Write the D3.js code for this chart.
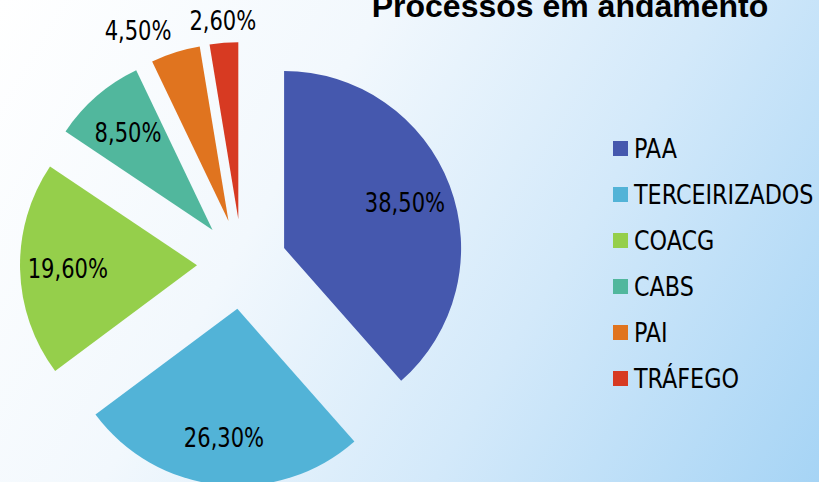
<!DOCTYPE html>
<html><head><meta charset="utf-8">
<script src="https://cdn.jsdelivr.net/npm/d3@7"></script>
<style>html,body{margin:0;padding:0;overflow:hidden;background:#fff;}</style>
</head><body>
<svg id="c" width="819" height="482"></svg>
<script>
const categories = ["PAA", "TERCEIRIZADOS", "COACG", "CABS", "PAI", "TRÁFEGO"];
const values = [38.5, 26.3, 19.6, 8.5, 4.5, 2.6];
const valueLabels = ["38,50%", "26,30%", "19,60%", "8,50%", "4,50%", "2,60%"];
const colors = ["#4558ae", "#52b3d7", "#95cf4b", "#51b79d", "#e0741f", "#d73a22"];
const title = "Processos em andamento";

const W = 819, H = 482;
const svg = d3.select("#c");
const defs = svg.append("defs");
const g = defs.append("linearGradient").attr("id", "bg")
  .attr("gradientUnits", "userSpaceOnUse")
  .attr("x1", 0).attr("y1", 0).attr("x2", W).attr("y2", H);
[[0, "#ffffff"], [0.35, "#f2f8fd"], [0.65, "#d3e9fa"], [1, "#a6d4f5"]]
  .forEach(([o, c]) => g.append("stop").attr("offset", o).attr("stop-color", c));
svg.append("rect").attr("width", W).attr("height", H).attr("fill", "url(#bg)");

const cx = 242, cy = 264, R = 177, explode = 45;
const pie = d3.pie().sort(null).value(d => d);
const arcs = pie(values);
const arc = d3.arc().innerRadius(0).outerRadius(R);
const labelArc = d3.arc().innerRadius(R * 0.73).outerRadius(R * 0.73);
const outArc = d3.arc().innerRadius(R + 13).outerRadius(R + 13);

const chart = svg.append("g").attr("transform", `translate(${cx},${cy})`);
const sl = chart.selectAll("g.slice").data(arcs).join("g")
  .attr("class", "slice")
  .attr("transform", d => {
    const a = (d.startAngle + d.endAngle) / 2;
    return `translate(${Math.sin(a) * explode},${-Math.cos(a) * explode})`;
  });
sl.append("path").attr("d", arc).attr("fill", (d, i) => colors[i]);

const fontLab = "'DejaVu Sans Condensed','DejaVu Sans',sans-serif";
const sx = 0.9;
sl.append("text")
  .attr("transform", d => {
    const small = (d.endAngle - d.startAngle) < 0.35;
    const p = small ? outArc.centroid(d) : labelArc.centroid(d);
    return `translate(${p[0]},${p[1]}) scale(${sx},1)`;
  })
  .attr("dy", d => (d.endAngle - d.startAngle) < 0.35 ? 0 : "0.36em")
  .attr("text-anchor", d => {
    if ((d.endAngle - d.startAngle) >= 0.35) return "middle";
    const s = Math.sin((d.startAngle + d.endAngle) / 2);
    return s < -0.2 ? "end" : (s > 0.2 ? "start" : "middle");
  })
  .attr("font-family", fontLab).attr("font-size", 26).attr("fill", "#000")
  .text((d, i) => valueLabels[i]);

svg.append("text").attr("x", 570).attr("y", 17).attr("text-anchor", "middle")
  .attr("font-family", "'Liberation Sans',Arial,sans-serif").attr("font-weight", "bold")
  .attr("font-size", 32).attr("fill", "#000").text(title);

const legend = svg.append("g").attr("transform", "translate(613,149)");
const y = d3.scaleBand().domain(categories).range([0, 276]);
const items = legend.selectAll("g").data(categories).join("g")
  .attr("transform", d => `translate(0,${y(d)})`);
items.append("rect").attr("x", 0).attr("y", -8).attr("width", 15).attr("height", 15)
  .attr("fill", (d, i) => colors[i]);
items.append("text").attr("transform", `translate(21,0) scale(${0.953},1)`).attr("dy", "0.36em")
  .attr("font-family", fontLab).attr("font-size", 26).attr("fill", "#000").text(d => d);
</script>
</body></html>
